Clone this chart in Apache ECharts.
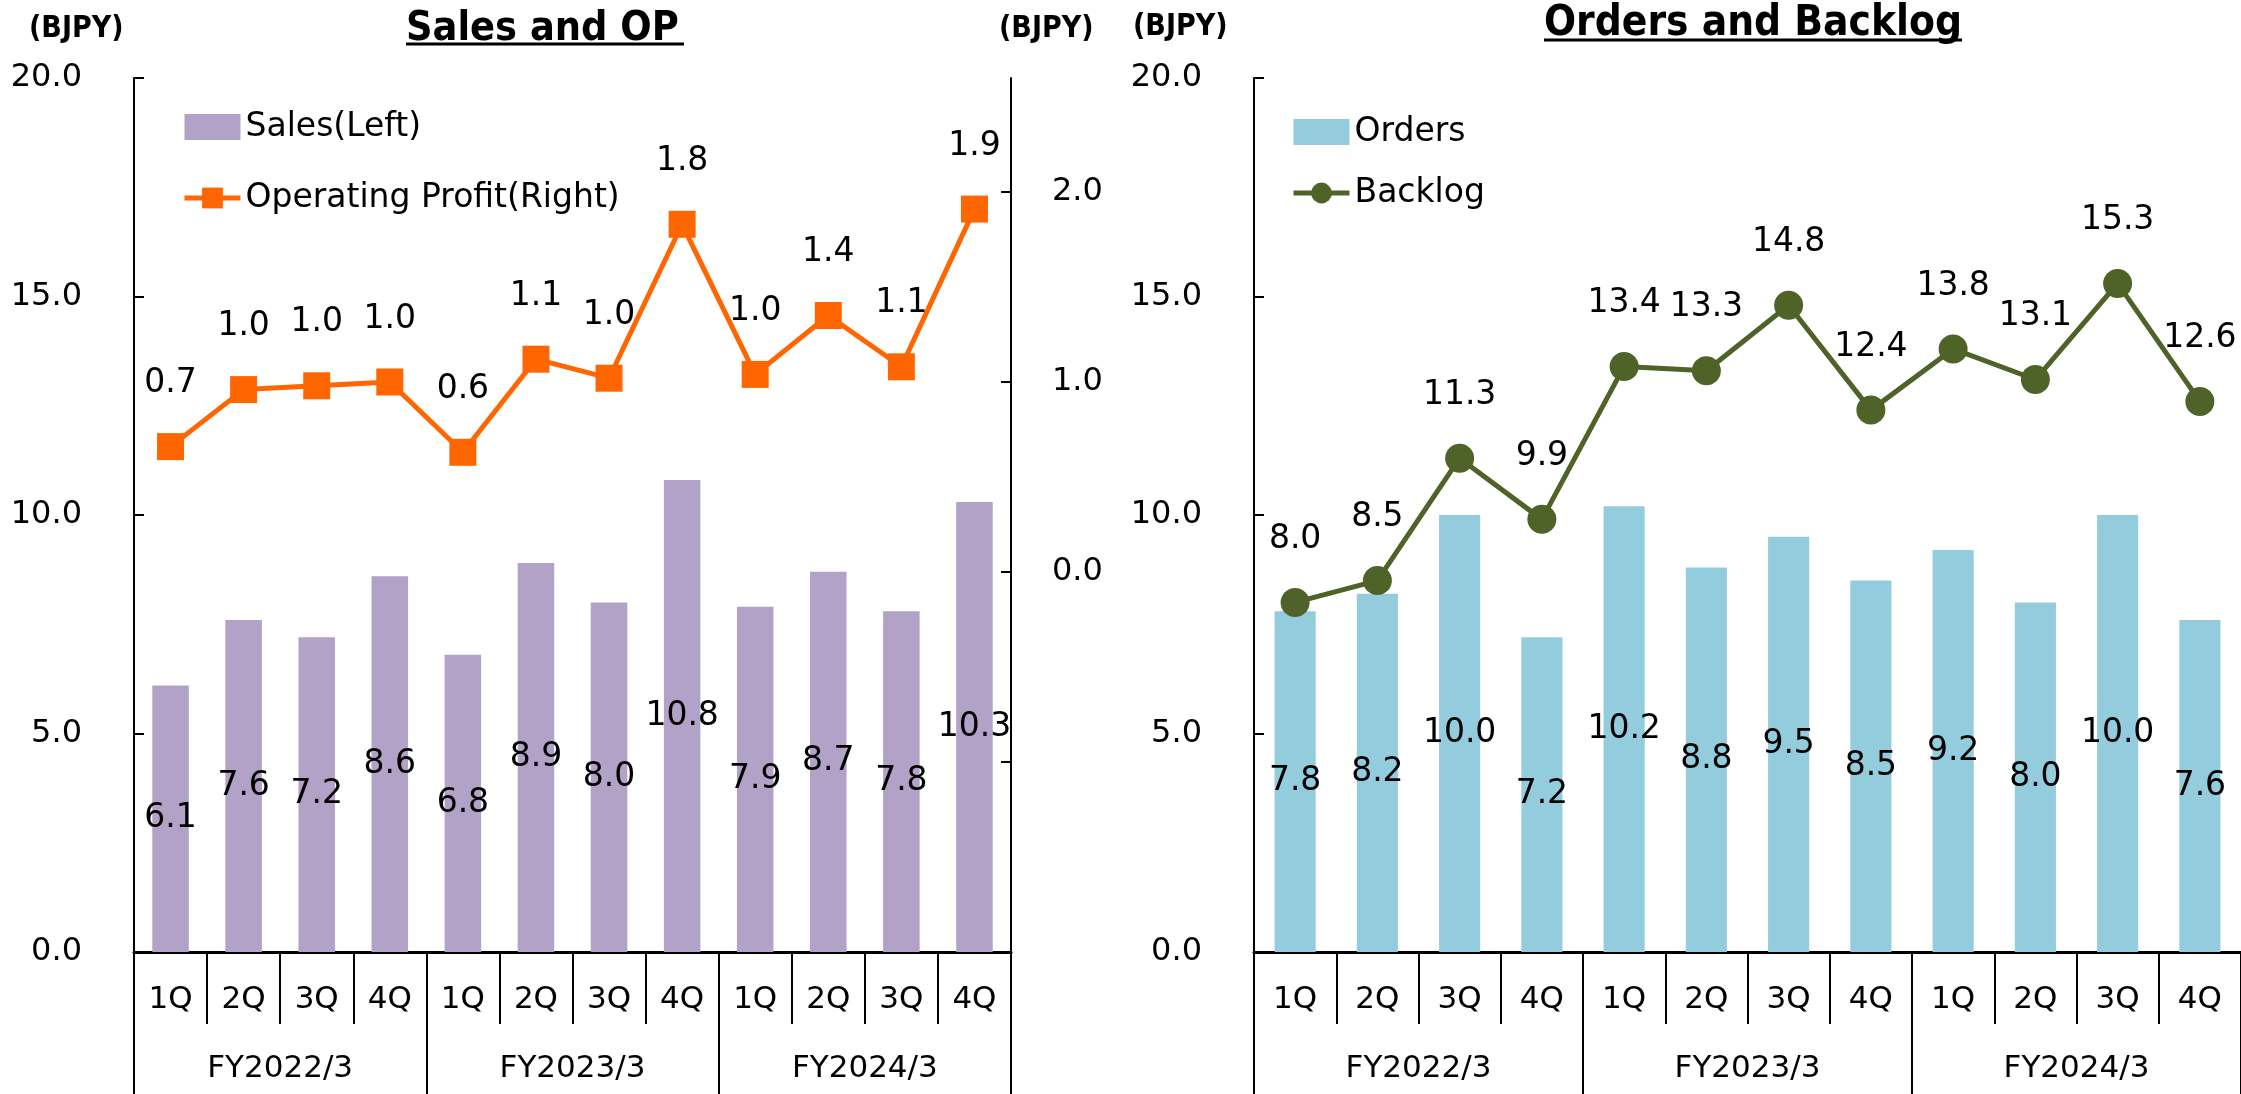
<!DOCTYPE html>
<html>
<head>
<meta charset="utf-8">
<script src="https://cdn.jsdelivr.net/npm/echarts@6/dist/echarts.min.js"></script>
<style>
html, body { margin: 0; padding: 0; background: #fff; }
#chart { width: 2241px; height: 1094px; }
</style>
</head>
<body>
<div id="chart"></div>
<script>
// data
var quarters = ['1Q', '2Q', '3Q', '4Q', '1Q', '2Q', '3Q', '4Q', '1Q', '2Q', '3Q', '4Q'];
var fiscalYears = ['FY2022/3', 'FY2023/3', 'FY2024/3'];
var sales = [6.1, 7.6, 7.2, 8.6, 6.8, 8.9, 8.0, 10.8, 7.9, 8.7, 7.8, 10.3];
var operatingProfit = [0.66, 0.96, 0.98, 1.0, 0.63, 1.12, 1.02, 1.83, 1.04, 1.35, 1.08, 1.91];
var orders = [7.8, 8.2, 10.0, 7.2, 10.2, 8.8, 9.5, 8.5, 9.2, 8.0, 10.0, 7.6];
var backlog = [8.0, 8.5, 11.3, 9.9, 13.4, 13.3, 14.8, 12.4, 13.8, 13.1, 15.3, 12.6];
var opTickValues = [-2, -1, 0, 1, 2];
var opLabelValues = [0, 1, 2];

var font = 'DejaVu Sans';
var boldFont = 'DejaVu Sans Condensed';

var dom = document.getElementById('chart');
var myChart = echarts.init(dom);

function fmt(v) {
    return Number(v).toFixed(1);
}

function quarterAxis(grid) {
    return {
        gridIndex: grid,
        type: 'category',
        data: quarters,
        position: 'bottom',
        axisLine: { onZero: false, lineStyle: { color: '#000', width: 3 } },
        axisTick: { show: true, length: 72, lineStyle: { color: '#000', width: 2 } },
        axisLabel: { interval: 0, margin: 32, color: '#000', fontSize: 31, fontFamily: font },
        splitLine: { show: false }
    };
}

function yearAxis(grid) {
    return {
        gridIndex: grid,
        type: 'category',
        data: fiscalYears,
        position: 'bottom',
        axisLine: { show: false, onZero: false },
        axisTick: { show: true, length: 142, lineStyle: { color: '#000', width: 2 } },
        axisLabel: { interval: 0, margin: 101, color: '#000', fontSize: 31, fontFamily: font },
        splitLine: { show: false }
    };
}

function leftValueAxis(grid) {
    return {
        gridIndex: grid,
        type: 'value',
        position: 'left',
        min: 0,
        max: 20,
        interval: 5,
        axisLine: { show: true, lineStyle: { color: '#000', width: 2 } },
        axisTick: { show: true, inside: true, length: 10, lineStyle: { color: '#000', width: 2 } },
        axisLabel: { margin: 52, color: '#000', fontSize: 32, fontFamily: font, formatter: fmt },
        splitLine: { show: false }
    };
}

var labelStyle = {
    color: '#000',
    fontSize: 33,
    fontFamily: font,
    textBorderWidth: 0
};

option = {
    animation: false,
    backgroundColor: '#fff',
    title: [
        {
            text: 'Sales and OP', left: 406, top: 9, padding: 0,
            textStyle: { fontFamily: boldFont, fontWeight: 'bold', fontSize: 41, color: '#000' }
        },
        {
            text: 'Orders and Backlog', left: 1544, top: 3, padding: 0,
            textStyle: { fontFamily: boldFont, fontWeight: 'bold', fontSize: 42, color: '#000' }
        },
        {
            text: '(BJPY)', left: 29, top: 14, padding: 0,
            textStyle: { fontFamily: boldFont, fontWeight: 'bold', fontSize: 30, color: '#000' }
        },
        {
            text: '(BJPY)', left: 999, top: 14, padding: 0,
            textStyle: { fontFamily: boldFont, fontWeight: 'bold', fontSize: 30, color: '#000' }
        },
        {
            text: '(BJPY)', left: 1133, top: 12, padding: 0,
            textStyle: { fontFamily: boldFont, fontWeight: 'bold', fontSize: 30, color: '#000' }
        }
    ],
    // underlines of the two titles
    graphic: [
        { type: 'line', shape: { x1: 406, y1: 44, x2: 684, y2: 44 }, style: { stroke: '#000', lineWidth: 3 } },
        { type: 'line', shape: { x1: 1544, y1: 40, x2: 1962, y2: 40 }, style: { stroke: '#000', lineWidth: 3 } }
    ],
    legend: [
        {
            data: [
                { name: 'Sales(Left)', icon: 'rect' },
                { name: 'Operating Profit(Right)', lineStyle: { width: 5 } }
            ],
            orient: 'vertical',
            left: 177,
            top: 103,
            itemWidth: 56,
            itemHeight: 26,
            itemGap: 33,
            textStyle: { color: '#000', fontSize: 33, fontFamily: font, lineHeight: 38 }
        },
        {
            data: [
                { name: 'Orders', icon: 'rect' },
                { name: 'Backlog', lineStyle: { width: 5 } }
            ],
            orient: 'vertical',
            left: 1286,
            top: 108,
            itemWidth: 56,
            itemHeight: 26,
            itemGap: 23,
            textStyle: { color: '#000', fontSize: 33, fontFamily: font, lineHeight: 38 }
        }
    ],
    grid: [
        { left: 134, top: 78, width: 877, height: 874 },
        { left: 1254, top: 78, width: 988, height: 874 }
    ],
    xAxis: [
        quarterAxis(0),
        yearAxis(0),
        quarterAxis(1),
        yearAxis(1)
    ],
    yAxis: [
        leftValueAxis(0),
        {
            gridIndex: 0,
            type: 'value',
            position: 'right',
            min: -2,
            max: 2.6,
            interval: 1,
            axisLine: { show: true, lineStyle: { color: '#000', width: 2 } },
            axisTick: { show: true, inside: true, length: 10, customValues: opTickValues, lineStyle: { color: '#000', width: 2 } },
            axisLabel: {
                margin: 41, color: '#000', fontSize: 32, fontFamily: font,
                customValues: opLabelValues,
                formatter: function (v) {
                    return v < 0 || Math.abs(v - Math.round(v)) > 1e-6 ? '' : fmt(v);
                }
            },
            splitLine: { show: false }
        },
        leftValueAxis(1)
    ],
    series: [
        {
            name: 'Sales(Left)',
            type: 'bar',
            xAxisIndex: 0,
            yAxisIndex: 0,
            barWidth: '50%',
            itemStyle: { color: '#B3A2C7' },
            label: Object.assign({ show: true, position: 'inside', formatter: function (p) { return fmt(p.value); } }, labelStyle),
            data: sales
        },
        {
            name: 'Operating Profit(Right)',
            type: 'line',
            xAxisIndex: 0,
            yAxisIndex: 1,
            symbol: 'rect',
            symbolSize: 27,
            lineStyle: { color: '#FF6600', width: 5 },
            itemStyle: { color: '#FF6600' },
            label: Object.assign({ show: true, position: 'top', distance: 33, formatter: function (p) { return fmt(p.value); } }, labelStyle),
            data: operatingProfit
        },
        {
            name: 'Orders',
            type: 'bar',
            xAxisIndex: 2,
            yAxisIndex: 2,
            barWidth: '50%',
            itemStyle: { color: '#93CDDD' },
            label: Object.assign({ show: true, position: 'inside', formatter: function (p) { return fmt(p.value); } }, labelStyle),
            data: orders
        },
        {
            name: 'Backlog',
            type: 'line',
            xAxisIndex: 2,
            yAxisIndex: 2,
            symbol: 'circle',
            symbolSize: 29,
            lineStyle: { color: '#4F6228', width: 5 },
            itemStyle: { color: '#4F6228' },
            label: Object.assign({ show: true, position: 'top', distance: 32, formatter: function (p) { return fmt(p.value); } }, labelStyle),
            data: backlog
        }
    ]
};

if (option && typeof option === 'object') {
    myChart.setOption(option, true);
}
</script>
</body>
</html>
